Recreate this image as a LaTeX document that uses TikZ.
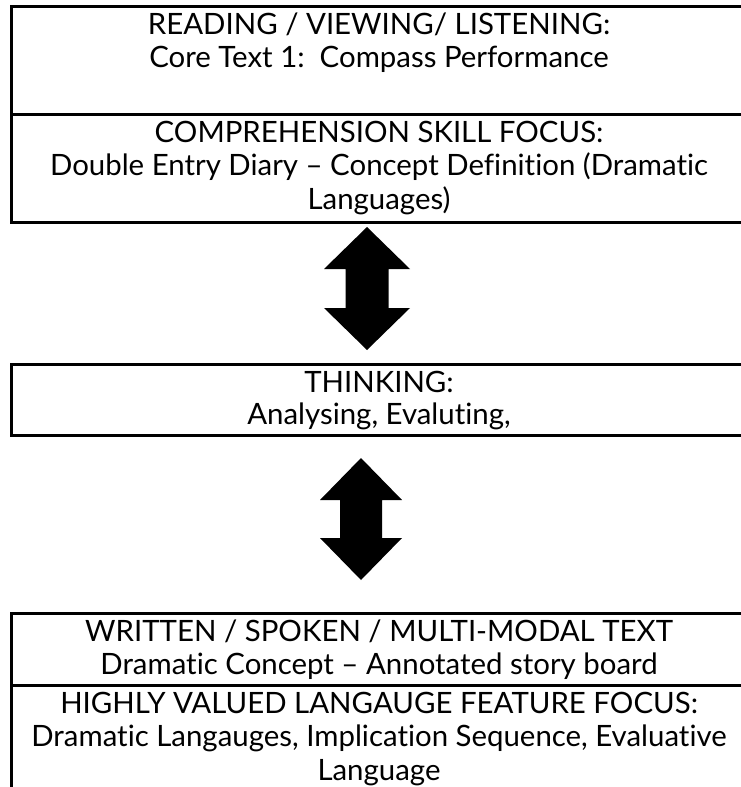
\documentclass[tikz,border=0pt]{standalone}
\usepackage{fontspec}
\setmainfont{Lato}[Ligatures=NoCommon]
\begin{document}
\begin{tikzpicture}[x=1pt,y=-1pt,
  frame/.style={line width=3pt, line cap=rect},
  txt/.style={anchor=base, inner sep=0pt, font=\fontsize{29.4}{33}\selectfont},
  blockarrow/.style={fill=black}]
\useasboundingbox (0,0) rectangle (741,787);
\clip (0,0) rectangle (741,787);
% top box
\draw[frame] (760,6.7) -- (11.5,6.7) -- (11.5,222) -- (760,222);
\draw[frame] (11.5,114) -- (760,114);
\node[txt] (t1) at (379,34) {READING / VIEWING/ LISTENING:};
\node[txt] (t2) at (379,67) {Core Text 1:\ \ Compass Performance};
\node[txt] (c1) at (379,142) {COMPREHENSION SKILL FOCUS:};
\node[txt] (c2) at (379,175) {Double Entry Diary – Concept Definition (Dramatic};
\node[txt] (c3) at (379,209) {Languages)};
% thinking box
\draw[frame] (760,364) -- (11.5,364) -- (11.5,435) -- (760,435);
\node[txt] (h1) at (379,392) {THINKING:};
\node[txt] (h2) at (379,424) {Analysing, Evaluting,};
% bottom box
\draw[frame] (760,613) -- (11.5,613) -- (11.5,800);
\draw[frame] (11.5,685) -- (760,685);
\node[txt] (w1) at (379,641) {WRITTEN / SPOKEN / MULTI-MODAL TEXT};
\node[txt] (w2) at (379,674) {Dramatic Concept – Annotated story board};
\node[txt] (f1) at (379,713) {HIGHLY VALUED LANGAUGE FEATURE FOCUS:};
\node[txt] (f2) at (379,746) {Dramatic Langauges, Implication Sequence, Evaluative};
\node[txt] (f3) at (379,780) {Language};
% arrow 1
\coordinate (a1) at (367,227);
\fill[blockarrow] (a1) -- ++(43,42) -- ++(-21.5,0) -- ++(0,39) -- ++(21.5,0)
  -- ++(-43,42) -- ++(-43,-42) -- ++(21.5,0) -- ++(0,-39) -- ++(-21.5,0) -- cycle;
% arrow 2
\coordinate (a2) at (361,458);
\fill[blockarrow] (a2) -- ++(41,42) -- ++(-20,0) -- ++(0,38) -- ++(20,0)
  -- ++(-41,42) -- ++(-41,-42) -- ++(20,0) -- ++(0,-38) -- ++(-20,0) -- cycle;
\end{tikzpicture}
\end{document}
